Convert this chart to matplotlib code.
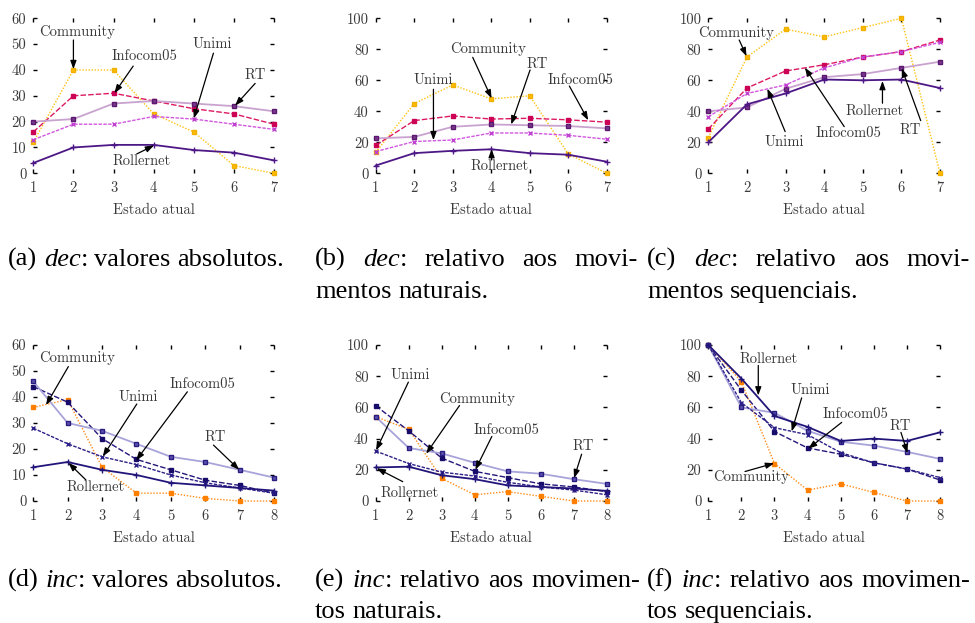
import matplotlib
matplotlib.use("Agg")
import matplotlib.pyplot as plt

# eixo x
estados_dec = [1, 2, 3, 4, 5, 6, 7]
estados_inc = [1, 2, 3, 4, 5, 6, 7, 8]
traces = ["Community", "Infocom05", "RT", "Unimi", "Rollernet"]

# (a) dec: valores absolutos
a_community = [12, 40, 40, 23, 16, 3, 0]
a_infocom05 = [16, 30, 31, 28, 25, 23, 19]
a_rt = [20, 21, 27, 28, 27, 26, 24]
a_unimi = [13, 19, 19, 22, 21, 19, 17]
a_rollernet = [4, 10, 11, 11, 9, 8, 5]

# (b) dec: relativo aos movimentos naturais
b_community = [13.5, 45, 57, 48, 50, 12.5, 0]
b_infocom05 = [18, 34, 37, 35, 35.5, 34.5, 33]
b_rt = [22.5, 23.5, 30, 31.5, 31, 30.5, 29]
b_unimi = [14, 20.5, 21.5, 26, 26, 24.5, 22]
b_rollernet = [5, 13, 14.5, 15.5, 13, 12, 7.5]

# (c) dec: relativo aos movimentos sequenciais
c_community = [23, 75, 93, 88, 94, 100, 0]
c_infocom05 = [28.5, 55, 66, 70, 75, 78.5, 86]
c_rt = [40, 42.5, 54.5, 62, 64, 68, 72]
c_unimi = [36.5, 51.5, 57, 68, 75, 78.5, 84.5]
c_rollernet = [20, 44.5, 51.5, 60.5, 60, 60.5, 55]

# (d) inc: valores absolutos
d_community = [36, 39, 13, 3, 3, 1, 0, 0]
d_infocom05 = [44, 38, 24, 16, 12, 8, 6, 3]
d_rt = [46, 30, 27, 22, 17, 15, 12, 9]
d_unimi = [28, 22, 17, 14, 10, 7, 5, 3]
d_rollernet = [13, 15, 12, 10, 7, 6, 5, 4]

# (e) inc: relativo aos movimentos naturais
e_community = [54, 46, 14.5, 4, 6, 3, 0, 0]
e_infocom05 = [61, 45, 27.5, 19, 15, 11, 9, 6]
e_rt = [54, 34, 30.5, 24.5, 19, 17.5, 14, 11]
e_unimi = [32, 24, 18.5, 16, 12, 9, 7, 4]
e_rollernet = [21.5, 22, 16.5, 14, 10, 9, 8, 6.5]

# (f) inc: relativo aos movimentos sequenciais
f_community = [100, 76.5, 24, 7, 11, 5.5, 0, 0]
f_infocom05 = [100, 71, 44.5, 34, 30, 24.5, 20.5, 13.5]
f_rt = [100, 60, 56.5, 45, 38, 35.5, 31.5, 27]
f_unimi = [100, 63, 47, 42.5, 31, 24.5, 20.5, 15]
f_rollernet = [100, 78.5, 54.5, 47.5, 38.5, 40, 38.5, 44]

W, H = 975, 623
TXT = "#3a3a3a"
CM = "cmr10"
CAP = "Liberation Serif"

# estilos (linha, marcador) por conjunto de dados
styles_dec = {
    "Community": dict(color="#ffc20e", ls=(0, (1, 1.2)), marker="s", ms=2.8, mfc="#ffbb00", mec="#f0b000"),
    "Infocom05": dict(color="#dc1a62", ls=(0, (4, 1.5)), marker="s", ms=3.0, mfc="#cc0055", mec="#cc0055"),
    "RT": dict(color="#c9a3cf", ls="-", marker="s", ms=3.4, mfc="#7a3a8a", mec="#5a1870", lw=1.3),
    "Unimi": dict(color="#d257e0", ls=(0, (2.5, 1)), marker="x", ms=3.2, mfc="#c040d0", mec="#c040d0"),
    "Rollernet": dict(color="#4d1786", ls="-", marker="+", ms=4, mfc="#4d1786", mec="#4d1786", lw=1.3),
}
styles_inc = {
    "Community": dict(color="#ff8c1a", ls=(0, (1, 1.2)), marker="s", ms=2.8, mfc="#ff8000", mec="#ff8000"),
    "Infocom05": dict(color="#24177a", ls=(0, (4, 1.5)), marker="s", ms=3.0, mfc="#170c6a", mec="#170c6a"),
    "RT": dict(color="#a8a4da", ls="-", marker="s", ms=3.4, mfc="#5a52b0", mec="#2a1d80", lw=1.3),
    "Unimi": dict(color="#2b1f88", ls=(0, (2.5, 1)), marker="x", ms=3.2, mfc="#2b1f88", mec="#2b1f88"),
    "Rollernet": dict(color="#21157a", ls="-", marker="+", ms=4, mfc="#21157a", mec="#21157a", lw=1.3),
}

# painel: (x, series, ymax, estilos, rotulos[(nome, texto_xy, cauda, ponta)])
panels = [
    (estados_dec, [a_community, a_infocom05, a_rt, a_unimi, a_rollernet], 60, styles_dec, [
        ("Community", (2.10, 54.8), (2.0, 51.6), (2.0, 40.3)),
        ("Infocom05", (3.78, 45.2), (3.49, 41.5), (3.02, 31.0)),
        ("Unimi", (5.47, 50.1), (5.49, 46.5), (5.0, 21.2)),
        ("RT", (6.53, 38.1), (6.53, 34.8), (6.03, 26.2)),
        ("Rollernet", (3.70, 4.8), (3.58, 7.5), (4.01, 10.8)),
    ]),
    (estados_dec, [b_community, b_infocom05, b_rt, b_unimi, b_rollernet], 100, styles_dec, [
        ("Community", (3.93, 80.0), (3.52, 74.8), (4.01, 48.3)),
        ("RT", (5.20, 70.3), (5.01, 66.7), (4.52, 31.5)),
        ("Infocom05", (6.33, 59.8), (6.03, 56.3), (6.52, 34.2)),
        ("Unimi", (2.50, 59.8), (2.50, 54.2), (2.50, 21.3)),
        ("Rollernet", (4.23, 4.9), (4.01, 8.6), (4.01, 15.7)),
    ]),
    (estados_dec, [c_community, c_infocom05, c_rt, c_unimi, c_rollernet], 100, styles_dec, [
        ("Community", (1.73, 90.3), (1.80, 86.0), (1.99, 75.5)),
        ("Unimi", (2.97, 20.4), (2.99, 26.9), (2.53, 54.6)),
        ("Infocom05", (4.63, 25.8), (4.52, 30.1), (3.50, 68.2)),
        ("Rollernet", (5.32, 40.4), (5.51, 45.2), (5.51, 59.6)),
        ("RT", (6.24, 28.0), (6.50, 34.0), (6.01, 67.7)),
    ]),
    (estados_inc, [d_community, d_infocom05, d_rt, d_unimi, d_rollernet], 60, styles_inc, [
        ("Community", (2.26, 54.9), (2.02, 51.7), (1.37, 36.9)),
        ("Unimi", (4.05, 40.1), (4.01, 37.3), (3.02, 17.1)),
        ("Infocom05", (5.93, 45.0), (5.48, 42.0), (3.99, 15.6)),
        ("RT", (6.28, 24.7), (6.24, 21.5), (6.99, 12.0)),
        ("Rollernet", (2.82, 5.3), (2.53, 8.1), (2.02, 14.7)),
    ]),
    (estados_inc, [e_community, e_infocom05, e_rt, e_unimi, e_rollernet], 100, styles_inc, [
        ("Unimi", (2.06, 80.7), (1.99, 76.2), (1.01, 32.4)),
        ("Community", (4.08, 65.5), (3.54, 61.2), (2.53, 30.3)),
        ("Infocom05", (4.97, 45.7), (4.52, 41.4), (4.02, 20.0)),
        ("RT", (7.29, 35.4), (7.24, 30.0), (7.01, 14.6)),
        ("Rollernet", (2.04, 4.9), (1.82, 12.4), (1.03, 21.0)),
    ]),
    (estados_inc, [f_community, f_infocom05, f_rt, f_unimi, f_rollernet], 100, styles_inc, [
        ("Rollernet", (2.83, 90.8), (2.51, 86.9), (2.51, 67.6)),
        ("Unimi", (4.07, 71.0), (3.82, 66.1), (3.52, 44.6)),
        ("Infocom05", (5.45, 55.4), (5.03, 50.4), (4.02, 33.5)),
        ("RT", (6.79, 47.9), (6.82, 44.0), (7.02, 30.7)),
        ("Community", (2.29, 15.7), (2.11, 18.9), (2.99, 24.2)),
    ]),
]

# caixas dos eixos em pixels: (esquerda, direita, topo, base)
cols = [(33.3, 274.0), (375.7, 606.7), (708.3, 940.0)]
rows = [(18.3, 173.3), (345.0, 501.0)]

# legendas: linhas -> palavras -> trechos (texto, italico)
captions = [
    (8, 300, [266], False, [[[("(a)", 0)], [("dec", 1), (":", 0)], [("valores", 0)], [("absolutos.", 0)]]]),
    (315, 638, [266, 298], True, [
        [[("(b)", 0)], [("dec", 1), (":", 0)], [("relativo", 0)], [("aos", 0)], [("movi-", 0)]],
        [[("mentos", 0)], [("naturais.", 0)]]]),
    (647, 970, [266, 298], True, [
        [[("(c)", 0)], [("dec", 1), (":", 0)], [("relativo", 0)], [("aos", 0)], [("movi-", 0)]],
        [[("mentos", 0)], [("sequenciais.", 0)]]]),
    (8, 300, [587], False, [[[("(d)", 0)], [("inc", 1), (":", 0)], [("valores", 0)], [("absolutos.", 0)]]]),
    (315, 640, [587, 618], True, [
        [[("(e)", 0)], [("inc", 1), (":", 0)], [("relativo", 0)], [("aos", 0)], [("movimen-", 0)]],
        [[("tos", 0)], [("naturais.", 0)]]]),
    (647, 970, [587, 618], True, [
        [[("(f)", 0)], [("inc", 1), (":", 0)], [("relativo", 0)], [("aos", 0)], [("movimen-", 0)]],
        [[("tos", 0)], [("sequenciais.", 0)]]]),
]

fig = plt.figure(figsize=(W / 100, H / 100), dpi=100)

for i, (xs, ys_list, ymax, sty, notes) in enumerate(panels):
    (l, r), (t, b) = cols[i % 3], rows[i // 3]
    ax = fig.add_axes([l / W, 1 - b / H, (r - l) / W, (b - t) / H])
    for name, ys in zip(traces, ys_list):
        s = dict(sty[name])
        lw = s.pop("lw", 1.0)
        ax.plot(xs, ys, lw=lw, mew=1.0, clip_on=False, zorder=3, **s)
    ax.set_xlim(xs[0], xs[-1])
    ax.set_ylim(0, ymax)
    ax.set_xticks(xs)
    ax.set_yticks(range(0, ymax + 1, 10 if ymax == 60 else 20))
    for sp in ax.spines.values():
        sp.set_visible(False)
    ax.tick_params(direction="in", length=3, width=1, top=True, right=True,
                   labelcolor=TXT, labelsize=10.5)
    ax.tick_params(axis="x", pad=6)
    ax.tick_params(axis="y", pad=5)
    for lab in ax.get_xticklabels() + ax.get_yticklabels():
        lab.set_fontfamily(CM)
    ax.set_xlabel("Estado atual", fontfamily=CM, fontsize=10.5, color=TXT, labelpad=6)
    for name, txy, tail, head in notes:
        ax.text(txy[0], txy[1], name, ha="center", va="center", fontfamily=CM,
                fontsize=10.5, color=TXT, zorder=5)
        ax.annotate("", xy=head, xytext=tail, zorder=6,
                    arrowprops=dict(arrowstyle="-|>,head_length=0.5,head_width=0.18",
                                    color="black", lw=0.9, mutation_scale=10,
                                    shrinkA=0, shrinkB=0))

# legendas com justificacao manual
renderer = fig.canvas.get_renderer()
CAPSIZE = 19


def run_width(txt, ital):
    t = fig.text(0, 0, txt, fontfamily=CAP, fontsize=CAPSIZE,
                 fontstyle="italic" if ital else "normal")
    w = t.get_window_extent(renderer).width
    t.remove()
    return w


space = run_width("x x", 0) - run_width("xx", 0)

for x0, x1, baselines, justify, lines in captions:
    for k, (line, yb) in enumerate(zip(lines, baselines)):
        widths = [[run_width(txt, it) for txt, it in word] for word in line]
        total = sum(sum(w) for w in widths)
        last = k == len(lines) - 1
        if justify and not last and len(line) > 1:
            gap = (x1 - x0 - total) / (len(line) - 1)
        else:
            gap = space
        x = x0
        for word, ws in zip(line, widths):
            for (txt, it), w in zip(word, ws):
                fig.text(x / W, 1 - yb / H, txt, fontfamily=CAP, fontsize=CAPSIZE,
                         fontstyle="italic" if it else "normal", ha="left", va="baseline")
                x += w
            x += gap

fig.savefig("out.png", dpi=100)
